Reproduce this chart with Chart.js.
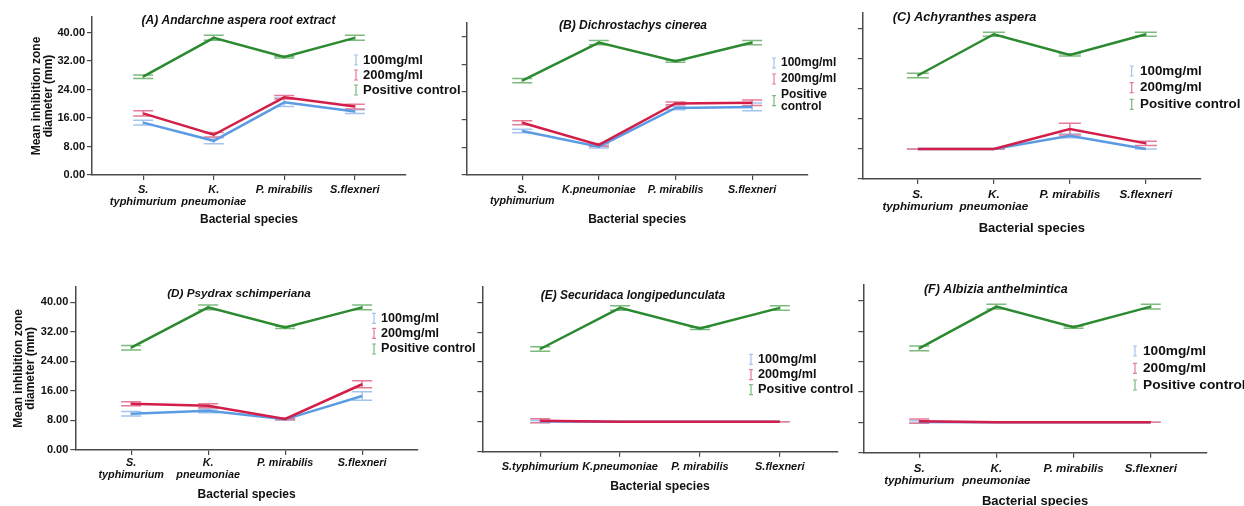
<!DOCTYPE html>
<html>
<head>
<meta charset="utf-8">
<script src="https://cdn.jsdelivr.net/npm/chart.js@4.4.0/dist/chart.umd.min.js"></script>
<style>
  body { margin: 0; background: #fff; width: 1244px; height: 506px; position: relative; overflow: hidden; }
  canvas { position: absolute; }
</style>
</head>
<body>
<canvas id="pA"></canvas>
<canvas id="pB"></canvas>
<canvas id="pC"></canvas>
<canvas id="pD"></canvas>
<canvas id="pE"></canvas>
<canvas id="pF"></canvas>
<script>
// categories / labels
const categories = ['S. typhimurium', 'K. pneumoniae', 'P. mirabilis', 'S. flexneri'];
const seriesNames = ['100mg/ml', '200mg/ml', 'Positive control'];
const yTicks = [0, 8, 16, 24, 32, 40];
const labelsWrapped = [['S.', 'typhimurium'], ['K.', 'pneumoniae'], 'P. mirabilis', 'S.flexneri'];
const labelsB = [['S.', 'typhimurium'], 'K.pneumoniae', 'P. mirabilis', 'S.flexneri'];
const labelsFlat = ['S.typhimurium', 'K.pneumoniae', 'P. mirabilis', 'S.flexneri'];

// (A) Andarchne aspera root extract
const aLow = [14.7, 9.6, 20.4, 17.8];
const aLowErr = [0.65, 0.85, 1.2, 0.55];
const aHigh = [17.3, 11.3, 21.8, 19.2];
const aHighErr = [0.75, 0.65, 0.5, 0.65];
const aCtrl = [27.6, 38.5, 33.1, 38.5];
const aCtrlErr = [0.5, 0.7, 0.25, 0.7];

// (B) Dichrostachys cinerea
const bLow = [12.7, 8.2, 19.4, 19.7];
const bLowErr = [0.5, 0.4, 0.5, 1.15];
const bHigh = [15.1, 8.7, 20.7, 20.9];
const bHighErr = [0.6, 0.4, 0.4, 0.8];
const bCtrl = [27.3, 38.3, 32.9, 38.3];
const bCtrlErr = [0.6, 0.6, 0.3, 0.6];

// (C) Achyranthes aspera
const cLow = [8.0, 8.0, 11.5, 8.0];
const cLowErr = [0, 0, 0.5, 0];
const cHigh = [8.0, 8.0, 13.3, 9.5];
const cHighErr = [0, 0, 1.55, 0.55];
const cCtrl = [27.6, 38.6, 33.1, 38.6];
const cCtrlErr = [0.6, 0.55, 0.3, 0.55];

// (D) Psydrax schimperiana
const dLow = [9.8, 10.6, 8.3, 14.6];
const dLowErr = [0.6, 0.5, 0.2, 1.15];
const dHigh = [12.5, 12.0, 8.4, 17.8];
const dHighErr = [0.55, 0.55, 0.2, 0.95];
const dCtrl = [27.7, 38.6, 33.2, 38.6];
const dCtrlErr = [0.6, 0.65, 0.3, 0.65];

// (E) Securidaca longipedunculata
const eLow = [8.1, 8.0, 8.0, 8.0];
const eLowErr = [0.3, 0, 0, 0];
const eHigh = [8.3, 8.0, 8.0, 8.0];
const eHighErr = [0.55, 0, 0, 0];
const eCtrl = [27.5, 38.5, 33.0, 38.5];
const eCtrlErr = [0.6, 0.6, 0.3, 0.6];

// (F) Albizia anthelmintica
const fLow = [8.1, 8.0, 8.0, 8.0];
const fLowErr = [0.3, 0, 0, 0];
const fHigh = [8.3, 8.0, 8.0, 8.0];
const fHighErr = [0.55, 0, 0, 0];
const fCtrl = [27.5, 38.5, 33.1, 38.5];
const fCtrlErr = [0.6, 0.6, 0.3, 0.6];

const FONT = '"Liberation Sans", Arial, sans-serif';
const lineColors = ['#5b9be3', '#d21e48', '#2b8a2f'];
const barColors = ['#a3c4ee', '#e57c97', '#7cba7e'];
const AXIS = '#4a4a4a';

// error bars drawn under the lines
const errorBars = {
  id: 'errorBars',
  beforeDatasetsDraw(chart, args, opts) {
    const ctx = chart.ctx;
    const ys = chart.scales.y;
    chart.data.datasets.forEach((ds, di) => {
      const meta = chart.getDatasetMeta(di);
      ctx.save();
      ctx.strokeStyle = ds.barColor;
      ctx.lineWidth = 1.5;
      meta.data.forEach((pt, i) => {
        const v = ds.data[i].y, e = ds.errors[i];
        const top = ys.getPixelForValue(v + e), bot = ys.getPixelForValue(v - e);
        ctx.beginPath();
        ctx.moveTo(pt.x, top); ctx.lineTo(pt.x, bot);
        ctx.moveTo(pt.x - opts.cap, top); ctx.lineTo(pt.x + opts.cap, top);
        ctx.moveTo(pt.x - opts.cap, bot); ctx.lineTo(pt.x + opts.cap, bot);
        ctx.stroke();
      });
      ctx.restore();
    });
  }
};

// panel title inside the plot
const panelTitle = {
  id: 'panelTitle',
  afterDraw(chart, args, o) {
    const ctx = chart.ctx;
    ctx.save();
    ctx.font = `italic bold ${o.size}px ${FONT}`;
    ctx.fillStyle = '#111';
    ctx.textAlign = 'center';
    ctx.textBaseline = 'middle';
    ctx.fillText(o.text, o.x, o.y);
    ctx.restore();
  }
};

// legend with error bar glyphs
const sideLegend = {
  id: 'sideLegend',
  afterDraw(chart, args, o) {
    const ctx = chart.ctx;
    ctx.save();
    ctx.font = `bold ${o.size}px ${FONT}`;
    ctx.textBaseline = 'middle';
    ctx.textAlign = 'left';
    chart.data.datasets.forEach((ds, i) => {
      const y = o.rows[i];
      const lines = o.wrap ? ds.label.split(' ') : [ds.label];
      const sy = y + (lines.length - 1) * o.gap / 2;
      ctx.strokeStyle = ds.barColor;
      ctx.lineWidth = 1.2;
      ctx.beginPath();
      ctx.moveTo(o.x, sy - 5); ctx.lineTo(o.x, sy + 5);
      ctx.moveTo(o.x - 2, sy - 5); ctx.lineTo(o.x + 2, sy - 5);
      ctx.moveTo(o.x - 2, sy + 5); ctx.lineTo(o.x + 2, sy + 5);
      ctx.stroke();
      ctx.fillStyle = '#111';
      lines.forEach((t, k) => ctx.fillText(t, o.tx, y + k * o.gap));
    });
    ctx.restore();
  }
};

const EDGE = 0.725;

function panel(id, p) {
  const c = p.canvas;
  const cv = document.getElementById(id);
  cv.width = c[2]; cv.height = c[3];
  cv.style.left = c[0] + 'px'; cv.style.top = c[1] + 'px';
  cv.style.width = c[2] + 'px'; cv.style.height = c[3] + 'px';
  const b = p.box;
  const catLh = p.catSize * 1.05;
  const xtLh = p.xTitleSize * 1.2;

  const series = [
    { vals: p.low, err: p.lowErr, order: 2 },
    { vals: p.high, err: p.highErr, order: 1 },
    { vals: p.ctrl, err: p.ctrlErr, order: 3 }
  ];

  new Chart(cv, {
    type: 'line',
    data: {
      datasets: series.map((s, i) => ({
        label: seriesNames[i],
        data: s.vals.map((v, k) => ({ x: k, y: v })),
        errors: s.err,
        borderColor: lineColors[i],
        barColor: barColors[i],
        borderWidth: 2.5,
        pointRadius: 0,
        tension: 0,
        fill: false,
        order: s.order
      }))
    },
    options: {
      responsive: false,
      animation: false,
      events: [],
      layout: { padding: { top: b.t - c[1], right: c[0] + c[2] - b.r, left: 0, bottom: 0 } },
      scales: {
        x: {
          type: 'linear',
          min: -EDGE, max: categories.length - 1 + EDGE,
          afterBuildTicks: s => { s.ticks = categories.map((_, i) => ({ value: i })); },
          afterFit: s => { s.height = c[1] + c[3] - b.b; },
          ticks: {
            autoSkip: false, maxRotation: 0, color: '#111',
            padding: p.catY - b.b - 5 - catLh / 2,
            font: { family: FONT, size: p.catSize, weight: 'bold', style: 'italic', lineHeight: 1.05 },
            callback: (v, i) => p.labels[i]
          },
          grid: { drawOnChartArea: false, drawTicks: true, tickLength: 5, color: AXIS, lineWidth: 1.2 },
          border: { display: true, color: AXIS, width: 1.5 },
          title: {
            display: true, text: 'Bacterial species', color: '#111',
            font: { family: FONT, size: p.xTitleSize, weight: 'bold', lineHeight: 1.2 },
            padding: { top: 0, bottom: c[1] + c[3] - p.xTitleY - xtLh / 2 }
          }
        },
        y: {
          min: 0, max: p.yMax,
          afterBuildTicks: s => { s.ticks = yTicks.map(v => ({ value: v })); },
          afterFit: s => { s.width = b.l - c[0]; },
          ticks: {
            display: !!p.yTitleX, color: '#111', padding: 2,
            font: { family: FONT, size: 11, weight: 'bold' },
            callback: v => v.toFixed(2)
          },
          grid: { drawOnChartArea: false, drawTicks: true, tickLength: 5, color: AXIS, lineWidth: 1.2 },
          border: { display: true, color: AXIS, width: 1.5 },
          title: {
            display: !!p.yTitleX, color: '#111',
            text: ['Mean inhibition zone', 'diameter (mm)'],
            font: { family: FONT, size: 12, weight: 'bold', lineHeight: 1.0 },
            padding: { top: (p.yTitleX || 0) - c[0] - 6, bottom: 0 }
          }
        }
      },
      plugins: {
        legend: { display: false },
        tooltip: { enabled: false },
        errorBars: { cap: p.cap || 10 },
        panelTitle: { text: p.title, x: p.titleX - c[0], y: p.titleY - c[1], size: p.titleSize },
        sideLegend: {
          x: p.legX - c[0], tx: p.legTx - c[0], rows: p.legRows.map(r => r - c[1]),
          size: p.legSize, wrap: !!p.legWrap, gap: 12.3
        }
      }
    },
    plugins: [errorBars, panelTitle, sideLegend]
  });
}

panel('pA', {
  canvas: [0, 0, 470, 240], box: { l: 92, t: 17, r: 406, b: 175 }, yMax: 44.35, yTitleX: 36.7,
  low: aLow, lowErr: aLowErr, high: aHigh, highErr: aHighErr, ctrl: aCtrl, ctrlErr: aCtrlErr,
  labels: labelsWrapped, catSize: 11, catY: 190, xTitleY: 220, xTitleSize: 12,
  title: '(A) Andarchne aspera root extract', titleX: 238.5, titleY: 21, titleSize: 12,
  legX: 356, legTx: 363, legRows: [60, 75, 90], legSize: 13
});

panel('pB', {
  canvas: [420, 0, 420, 240], box: { l: 466.7, t: 22.7, r: 807.7, b: 175 }, yMax: 44.05,
  low: bLow, lowErr: bLowErr, high: bHigh, highErr: bHighErr, ctrl: bCtrl, ctrlErr: bCtrlErr,
  labels: labelsB, catSize: 10.7, catY: 190, xTitleY: 219.3, xTitleSize: 12,
  title: '(B) Dichrostachys cinerea', titleX: 633, titleY: 26, titleSize: 12,
  legX: 774, legTx: 781, legRows: [63, 79, 94.5], legSize: 12, legWrap: true
});

panel('pC', {
  canvas: [830, 0, 414, 240], box: { l: 862.7, t: 13, r: 1201, b: 179 }, yMax: 44.27,
  low: cLow, lowErr: cLowErr, high: cHigh, highErr: cHighErr, ctrl: cCtrl, ctrlErr: cCtrlErr,
  labels: labelsWrapped, catSize: 11.7, catY: 194.3, xTitleY: 228.3, xTitleSize: 13,
  title: '(C) Achyranthes aspera', titleX: 964.5, titleY: 17, titleSize: 12.8, cap: 11,
  legX: 1131.7, legTx: 1140, legRows: [71, 87.7, 104.3], legSize: 13.4
});

panel('pD', {
  canvas: [0, 270, 480, 236], box: { l: 75.3, t: 286.7, r: 418, b: 450 }, yMax: 44.2, yTitleX: 18.3,
  low: dLow, lowErr: dLowErr, high: dHigh, highErr: dHighErr, ctrl: dCtrl, ctrlErr: dCtrlErr,
  labels: labelsWrapped, catSize: 10.8, catY: 463.3, xTitleY: 494.3, xTitleSize: 12,
  title: '(D) Psydrax schimperiana', titleX: 239, titleY: 294, titleSize: 11.7,
  legX: 374, legTx: 381, legRows: [318.3, 333.3, 349], legSize: 12.6
});

panel('pE', {
  canvas: [470, 270, 390, 236], box: { l: 482.3, t: 286.7, r: 837.7, b: 451.7 }, yMax: 44.18,
  low: eLow, lowErr: eLowErr, high: eHigh, highErr: eHighErr, ctrl: eCtrl, ctrlErr: eCtrlErr,
  labels: labelsFlat, catSize: 11, catY: 466.7, xTitleY: 486.7, xTitleSize: 12.2,
  title: '(E) Securidaca longipedunculata', titleX: 633, titleY: 295.7, titleSize: 11.9,
  legX: 751, legTx: 758, legRows: [359.3, 374.7, 389.7], legSize: 12.7
});

panel('pF', {
  canvas: [840, 270, 404, 236], box: { l: 863.3, t: 285, r: 1206.7, b: 452.7 }, yMax: 44.2,
  low: fLow, lowErr: fLowErr, high: fHigh, highErr: fHighErr, ctrl: fCtrl, ctrlErr: fCtrlErr,
  labels: labelsWrapped, catSize: 11.6, catY: 469, xTitleY: 501, xTitleSize: 13,
  title: '(F) Albizia anthelmintica', titleX: 995.8, titleY: 290, titleSize: 12.5,
  legX: 1135, legTx: 1143, legRows: [351, 368.3, 385], legSize: 13.7
});
</script>
</body>
</html>
